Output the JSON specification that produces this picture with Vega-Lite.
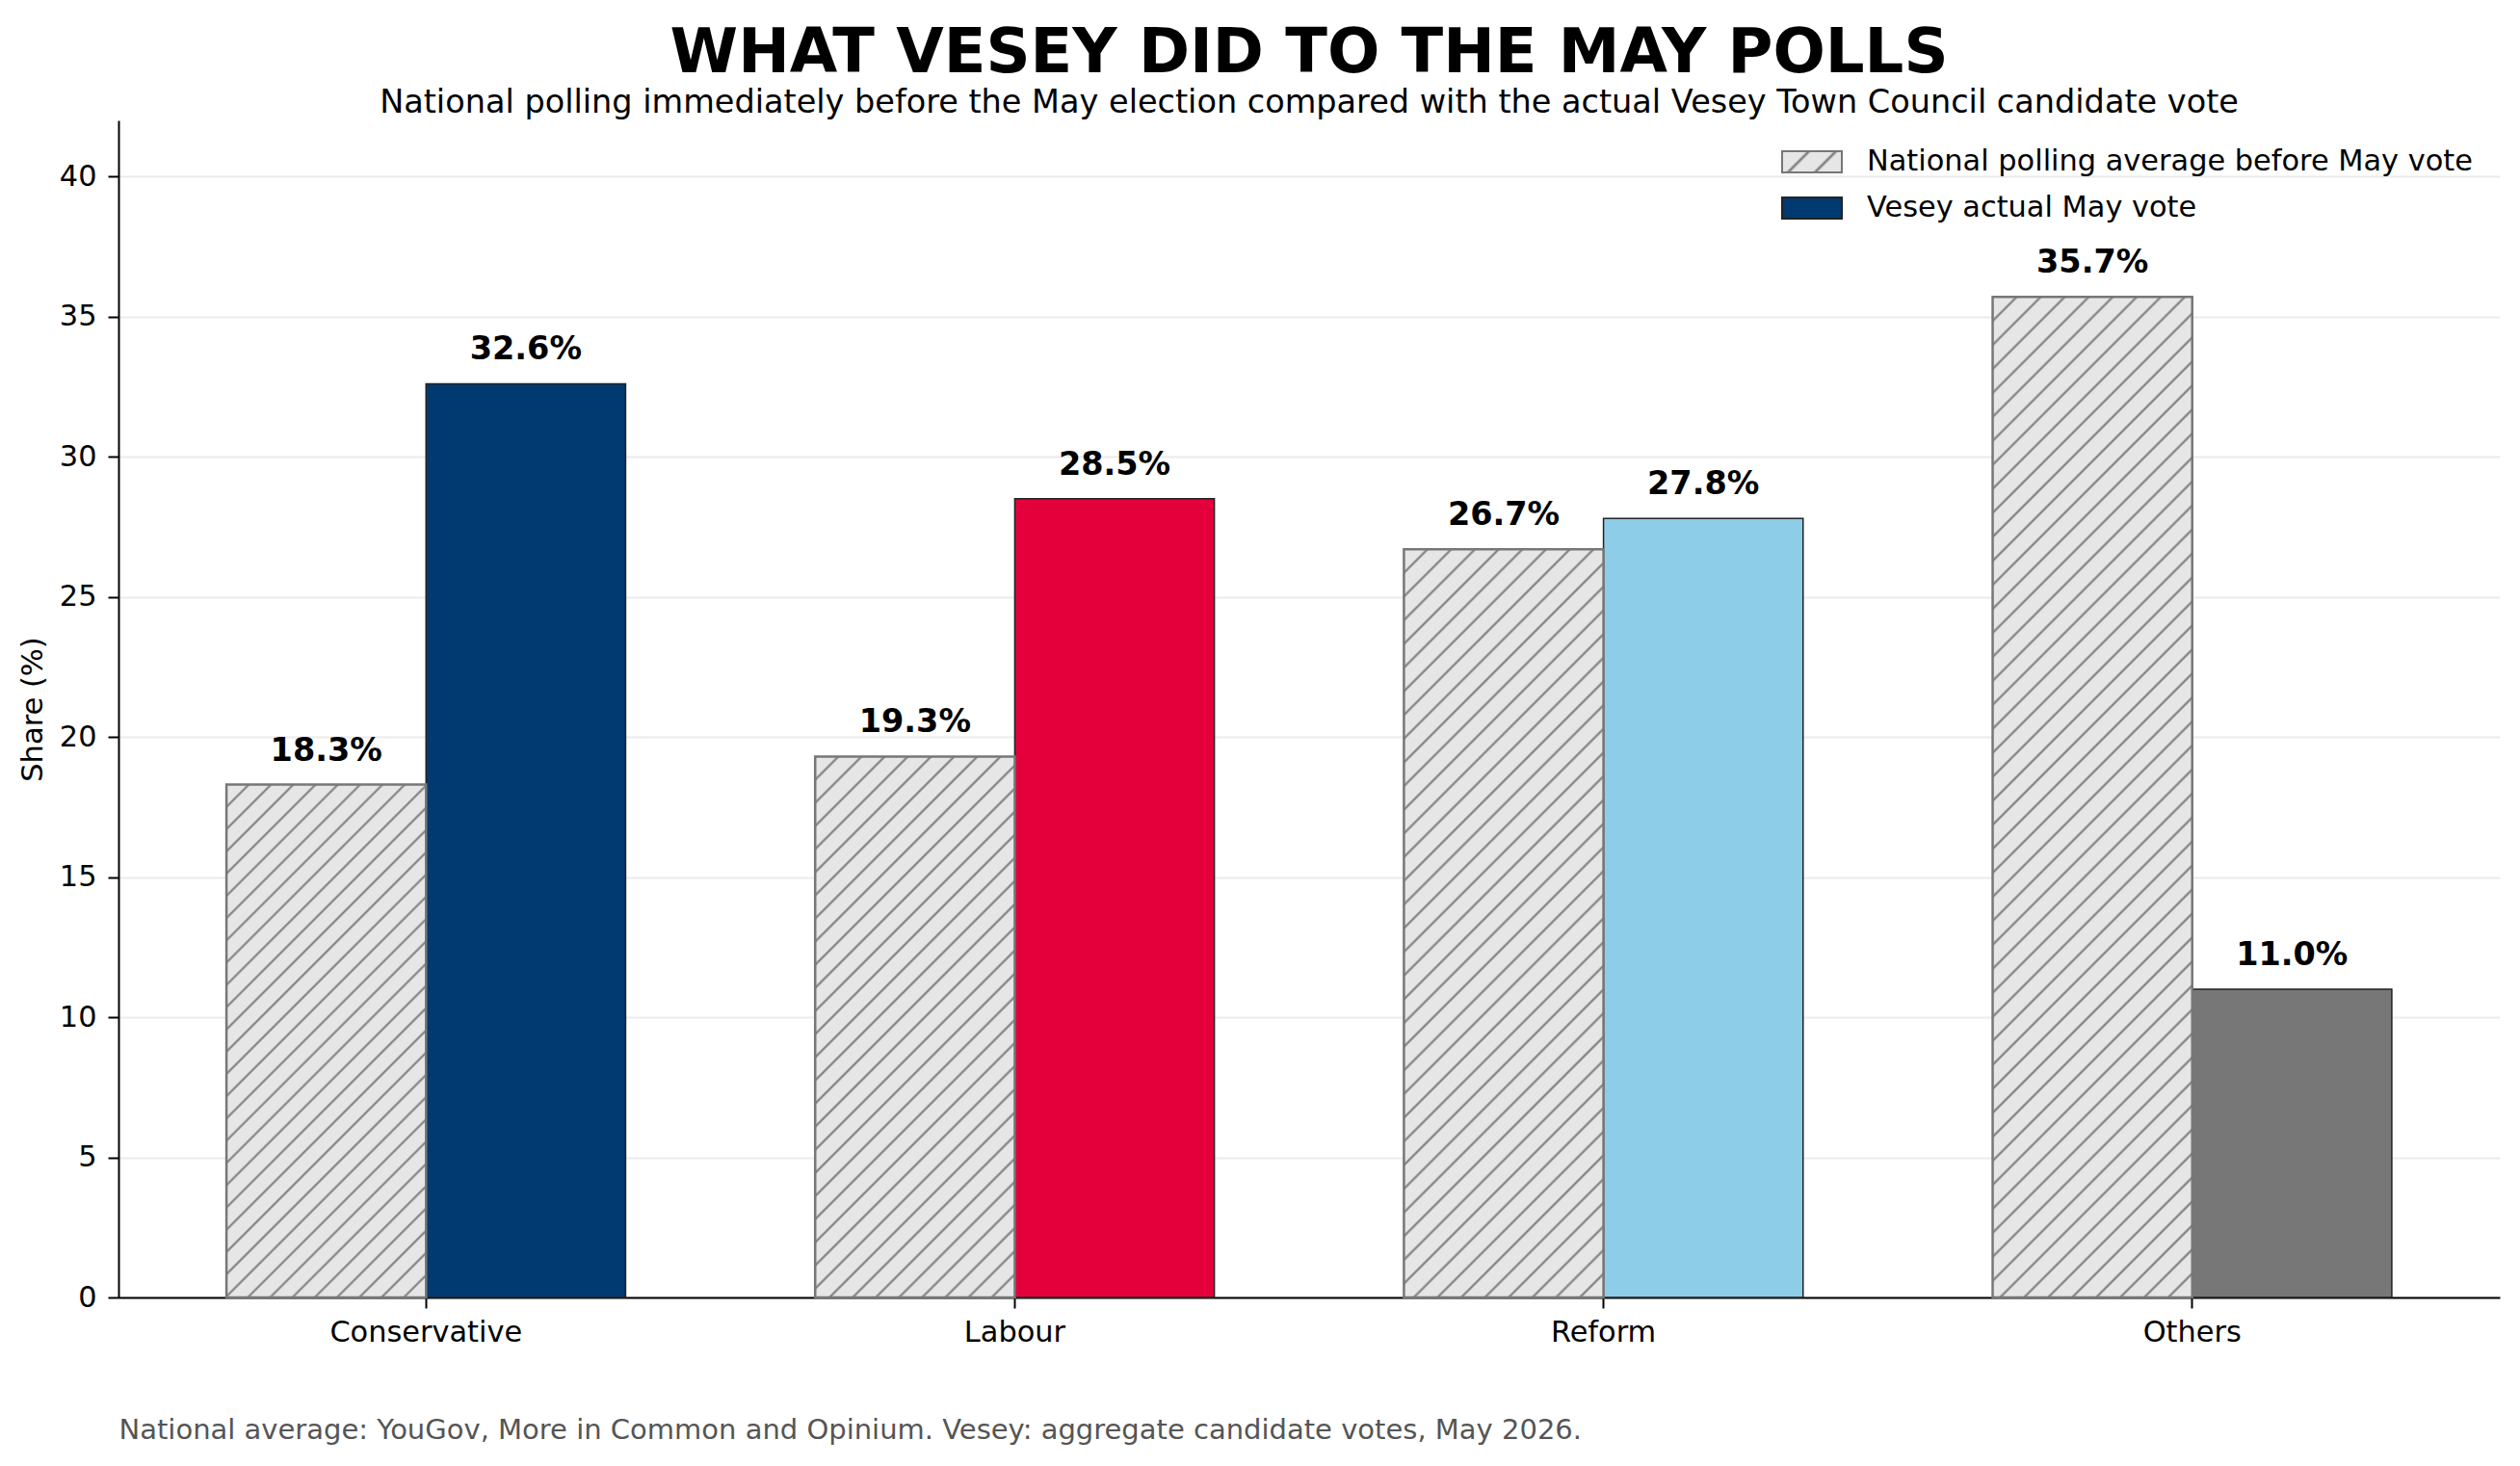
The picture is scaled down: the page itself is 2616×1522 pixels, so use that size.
{
  "$schema": "https://vega.github.io/schema/vega-lite/v6.json",
  "width": 2472,
  "height": 1222,
  "autosize": {"type": "none"},
  "padding": {"left": 123, "top": 125, "right": 21, "bottom": 175},
  "background": "#ffffff",
  "title": {
    "text": "WHAT VESEY DID TO THE MAY POLLS",
    "subtitle": "National polling immediately before the May election compared with the actual Vesey Town Council candidate vote",
    "font": "DejaVu Sans",
    "fontSize": 64,
    "fontWeight": "bold",
    "color": "#000000",
    "subtitleFont": "DejaVu Sans",
    "subtitleFontSize": 33.5,
    "subtitleColor": "#000000",
    "subtitlePadding": 3,
    "anchor": "middle",
    "frame": "group",
    "offset": 2
  },
  "data": {
    "values": [
      {"party": "Conservative", "series": "National polling average before May vote", "value": 18.3},
      {"party": "Conservative", "series": "Vesey actual May vote", "value": 32.6},
      {"party": "Labour", "series": "National polling average before May vote", "value": 19.3},
      {"party": "Labour", "series": "Vesey actual May vote", "value": 28.5},
      {"party": "Reform", "series": "National polling average before May vote", "value": 26.7},
      {"party": "Reform", "series": "Vesey actual May vote", "value": 27.8},
      {"party": "Others", "series": "National polling average before May vote", "value": 35.7},
      {"party": "Others", "series": "Vesey actual May vote", "value": 11.0}
    ]
  },
  "encoding": {
    "x": {
      "field": "party",
      "type": "nominal",
      "sort": null,
      "scale": {"domain": ["Conservative", "Labour", "Reform", "Others"], "paddingInner": 0.322, "paddingOuter": 0.1834},
      "axis": {
        "labelAngle": 0,
        "labelFontSize": 30.4,
        "labelColor": "#000000",
        "labelPadding": 10,
        "labelLimit": 0,
        "tickSize": 11,
        "tickWidth": 2,
        "tickColor": "#000000",
        "domainColor": "#000000",
        "domainWidth": 2,
        "grid": false,
        "title": "National average: YouGov, More in Common and Opinium. Vesey: aggregate candidate votes, May 2026.",
        "titleX": 0,
        "titleY": 146,
        "titleAlign": "left",
        "titleAnchor": "start",
        "titleBaseline": "alphabetic",
        "titleFontSize": 29,
        "titleFontWeight": "normal",
        "titleColor": "#555555"
      }
    },
    "xOffset": {
      "field": "series",
      "type": "nominal",
      "scale": {"domain": ["National polling average before May vote", "Vesey actual May vote"], "paddingInner": 0, "paddingOuter": 0}
    },
    "y": {
      "field": "value",
      "type": "quantitative",
      "scale": {"domain": [0, 42], "nice": false},
      "axis": {
        "values": [0, 5, 10, 15, 20, 25, 30, 35, 40],
        "labelFontSize": 30.4,
        "labelColor": "#000000",
        "labelPadding": 12,
        "tickSize": 11,
        "tickWidth": 2,
        "tickColor": "#000000",
        "domainColor": "#000000",
        "domainWidth": 2,
        "grid": true,
        "gridColor": "#ebebeb",
        "gridWidth": 2,
        "title": "Share (%)",
        "titleX": -89,
        "titleY": 611,
        "titleAlign": "center",
        "titleBaseline": "middle",
        "titleFontSize": 30.5,
        "titleFontWeight": "normal",
        "titleColor": "#000000"
      }
    }
  },
  "layer": [
    {
      "transform": [{"filter": "datum.series === 'Vesey actual May vote'"}],
      "mark": {"type": "bar", "strokeWidth": 1.5},
      "encoding": {
        "fill": {
          "field": "party",
          "type": "nominal",
          "scale": {"domain": ["Conservative", "Labour", "Reform", "Others"], "range": ["#003a70", "#e4003b", "#8ecde8", "#777777"]},
          "legend": null
        },
        "stroke": {
          "field": "series",
          "type": "nominal",
          "scale": {"domain": ["National polling average before May vote", "Vesey actual May vote"], "range": ["#777777", "#222222"]},
          "legend": {
            "title": null,
            "orient": "none",
            "legendX": 1726,
            "legendY": 11,
            "padding": 0,
            "labelFontSize": 30.4,
            "labelColor": "#000000",
            "labelOffset": 25,
            "labelLimit": 0,
            "symbolType": "M-1,-0.3548H1V0.3548H-1Z",
            "symbolSize": 3844,
            "symbolStrokeWidth": 2,
            "rowPadding": -28,
            "symbolFillColor": {"expr": "datum.value === 'Vesey actual May vote' ? '#003a70' : {gradient: 'linear', x1: 0, y1: 0, x2: 1.2033, y2: 0.4269, stops: [{offset: 0, color: '#777'}, {offset: 0.04, color: '#e6e6e6'}, {offset: 0.2933, color: '#e6e6e6'}, {offset: 0.3333, color: '#777'}, {offset: 0.3733, color: '#e6e6e6'}, {offset: 0.6267, color: '#e6e6e6'}, {offset: 0.6667, color: '#777'}, {offset: 0.7067, color: '#e6e6e6'}, {offset: 0.96, color: '#e6e6e6'}, {offset: 1, color: '#777'}]}"}
          }
        }
      }
    },
    {
      "transform": [{"filter": "datum.party === 'Conservative' && datum.series === 'National polling average before May vote'"}],
      "mark": {"type": "bar", "strokeWidth": 2.5, "stroke": "#777777", "fill": {"gradient": "linear", "x1": 0, "y1": 0, "x2": 0.4689, "y2": 1.2065, "stops": [
        {"offset": 0, "color": "#777"}, {"offset": 0.0037, "color": "#e6e6e6"}, {"offset": 0.0276, "color": "#e6e6e6"},
        {"offset": 0.0313, "color": "#777"}, {"offset": 0.035, "color": "#e6e6e6"}, {"offset": 0.0588, "color": "#e6e6e6"},
        {"offset": 0.0625, "color": "#777"}, {"offset": 0.0662, "color": "#e6e6e6"}, {"offset": 0.0901, "color": "#e6e6e6"},
        {"offset": 0.0938, "color": "#777"}, {"offset": 0.0975, "color": "#e6e6e6"}, {"offset": 0.1213, "color": "#e6e6e6"},
        {"offset": 0.125, "color": "#777"}, {"offset": 0.1287, "color": "#e6e6e6"}, {"offset": 0.1526, "color": "#e6e6e6"},
        {"offset": 0.1563, "color": "#777"}, {"offset": 0.16, "color": "#e6e6e6"}, {"offset": 0.1838, "color": "#e6e6e6"},
        {"offset": 0.1875, "color": "#777"}, {"offset": 0.1912, "color": "#e6e6e6"}, {"offset": 0.2151, "color": "#e6e6e6"},
        {"offset": 0.2188, "color": "#777"}, {"offset": 0.2225, "color": "#e6e6e6"}, {"offset": 0.2463, "color": "#e6e6e6"},
        {"offset": 0.25, "color": "#777"}, {"offset": 0.2537, "color": "#e6e6e6"}, {"offset": 0.2776, "color": "#e6e6e6"},
        {"offset": 0.2813, "color": "#777"}, {"offset": 0.285, "color": "#e6e6e6"}, {"offset": 0.3088, "color": "#e6e6e6"},
        {"offset": 0.3125, "color": "#777"}, {"offset": 0.3162, "color": "#e6e6e6"}, {"offset": 0.3401, "color": "#e6e6e6"},
        {"offset": 0.3438, "color": "#777"}, {"offset": 0.3475, "color": "#e6e6e6"}, {"offset": 0.3713, "color": "#e6e6e6"},
        {"offset": 0.375, "color": "#777"}, {"offset": 0.3787, "color": "#e6e6e6"}, {"offset": 0.4026, "color": "#e6e6e6"},
        {"offset": 0.4063, "color": "#777"}, {"offset": 0.41, "color": "#e6e6e6"}, {"offset": 0.4338, "color": "#e6e6e6"},
        {"offset": 0.4375, "color": "#777"}, {"offset": 0.4412, "color": "#e6e6e6"}, {"offset": 0.4651, "color": "#e6e6e6"},
        {"offset": 0.4688, "color": "#777"}, {"offset": 0.4725, "color": "#e6e6e6"}, {"offset": 0.4963, "color": "#e6e6e6"},
        {"offset": 0.5, "color": "#777"}, {"offset": 0.5037, "color": "#e6e6e6"}, {"offset": 0.5276, "color": "#e6e6e6"},
        {"offset": 0.5313, "color": "#777"}, {"offset": 0.535, "color": "#e6e6e6"}, {"offset": 0.5588, "color": "#e6e6e6"},
        {"offset": 0.5625, "color": "#777"}, {"offset": 0.5662, "color": "#e6e6e6"}, {"offset": 0.5901, "color": "#e6e6e6"},
        {"offset": 0.5938, "color": "#777"}, {"offset": 0.5975, "color": "#e6e6e6"}, {"offset": 0.6213, "color": "#e6e6e6"},
        {"offset": 0.625, "color": "#777"}, {"offset": 0.6287, "color": "#e6e6e6"}, {"offset": 0.6526, "color": "#e6e6e6"},
        {"offset": 0.6563, "color": "#777"}, {"offset": 0.66, "color": "#e6e6e6"}, {"offset": 0.6838, "color": "#e6e6e6"},
        {"offset": 0.6875, "color": "#777"}, {"offset": 0.6912, "color": "#e6e6e6"}, {"offset": 0.7151, "color": "#e6e6e6"},
        {"offset": 0.7188, "color": "#777"}, {"offset": 0.7225, "color": "#e6e6e6"}, {"offset": 0.7463, "color": "#e6e6e6"},
        {"offset": 0.75, "color": "#777"}, {"offset": 0.7537, "color": "#e6e6e6"}, {"offset": 0.7776, "color": "#e6e6e6"},
        {"offset": 0.7813, "color": "#777"}, {"offset": 0.785, "color": "#e6e6e6"}, {"offset": 0.8088, "color": "#e6e6e6"},
        {"offset": 0.8125, "color": "#777"}, {"offset": 0.8162, "color": "#e6e6e6"}, {"offset": 0.8401, "color": "#e6e6e6"},
        {"offset": 0.8438, "color": "#777"}, {"offset": 0.8475, "color": "#e6e6e6"}, {"offset": 0.8713, "color": "#e6e6e6"},
        {"offset": 0.875, "color": "#777"}, {"offset": 0.8787, "color": "#e6e6e6"}, {"offset": 0.9026, "color": "#e6e6e6"},
        {"offset": 0.9063, "color": "#777"}, {"offset": 0.91, "color": "#e6e6e6"}, {"offset": 0.9338, "color": "#e6e6e6"},
        {"offset": 0.9375, "color": "#777"}, {"offset": 0.9412, "color": "#e6e6e6"}, {"offset": 0.9651, "color": "#e6e6e6"},
        {"offset": 0.9688, "color": "#777"}, {"offset": 0.9725, "color": "#e6e6e6"}, {"offset": 0.9963, "color": "#e6e6e6"},
        {"offset": 1, "color": "#777"}
      ]}}
    },
    {
      "transform": [{"filter": "datum.party === 'Labour' && datum.series === 'National polling average before May vote'"}],
      "mark": {"type": "bar", "strokeWidth": 2.5, "stroke": "#777777", "fill": {"gradient": "linear", "x1": 0, "y1": 0, "x2": 0.4441, "y2": 1.2049, "stops": [
        {"offset": 0, "color": "#777"}, {"offset": 0.0037, "color": "#e6e6e6"}, {"offset": 0.0276, "color": "#e6e6e6"},
        {"offset": 0.0313, "color": "#777"}, {"offset": 0.035, "color": "#e6e6e6"}, {"offset": 0.0588, "color": "#e6e6e6"},
        {"offset": 0.0625, "color": "#777"}, {"offset": 0.0662, "color": "#e6e6e6"}, {"offset": 0.0901, "color": "#e6e6e6"},
        {"offset": 0.0938, "color": "#777"}, {"offset": 0.0975, "color": "#e6e6e6"}, {"offset": 0.1213, "color": "#e6e6e6"},
        {"offset": 0.125, "color": "#777"}, {"offset": 0.1287, "color": "#e6e6e6"}, {"offset": 0.1526, "color": "#e6e6e6"},
        {"offset": 0.1563, "color": "#777"}, {"offset": 0.16, "color": "#e6e6e6"}, {"offset": 0.1838, "color": "#e6e6e6"},
        {"offset": 0.1875, "color": "#777"}, {"offset": 0.1912, "color": "#e6e6e6"}, {"offset": 0.2151, "color": "#e6e6e6"},
        {"offset": 0.2188, "color": "#777"}, {"offset": 0.2225, "color": "#e6e6e6"}, {"offset": 0.2463, "color": "#e6e6e6"},
        {"offset": 0.25, "color": "#777"}, {"offset": 0.2537, "color": "#e6e6e6"}, {"offset": 0.2776, "color": "#e6e6e6"},
        {"offset": 0.2813, "color": "#777"}, {"offset": 0.285, "color": "#e6e6e6"}, {"offset": 0.3088, "color": "#e6e6e6"},
        {"offset": 0.3125, "color": "#777"}, {"offset": 0.3162, "color": "#e6e6e6"}, {"offset": 0.3401, "color": "#e6e6e6"},
        {"offset": 0.3438, "color": "#777"}, {"offset": 0.3475, "color": "#e6e6e6"}, {"offset": 0.3713, "color": "#e6e6e6"},
        {"offset": 0.375, "color": "#777"}, {"offset": 0.3787, "color": "#e6e6e6"}, {"offset": 0.4026, "color": "#e6e6e6"},
        {"offset": 0.4063, "color": "#777"}, {"offset": 0.41, "color": "#e6e6e6"}, {"offset": 0.4338, "color": "#e6e6e6"},
        {"offset": 0.4375, "color": "#777"}, {"offset": 0.4412, "color": "#e6e6e6"}, {"offset": 0.4651, "color": "#e6e6e6"},
        {"offset": 0.4688, "color": "#777"}, {"offset": 0.4725, "color": "#e6e6e6"}, {"offset": 0.4963, "color": "#e6e6e6"},
        {"offset": 0.5, "color": "#777"}, {"offset": 0.5037, "color": "#e6e6e6"}, {"offset": 0.5276, "color": "#e6e6e6"},
        {"offset": 0.5313, "color": "#777"}, {"offset": 0.535, "color": "#e6e6e6"}, {"offset": 0.5588, "color": "#e6e6e6"},
        {"offset": 0.5625, "color": "#777"}, {"offset": 0.5662, "color": "#e6e6e6"}, {"offset": 0.5901, "color": "#e6e6e6"},
        {"offset": 0.5938, "color": "#777"}, {"offset": 0.5975, "color": "#e6e6e6"}, {"offset": 0.6213, "color": "#e6e6e6"},
        {"offset": 0.625, "color": "#777"}, {"offset": 0.6287, "color": "#e6e6e6"}, {"offset": 0.6526, "color": "#e6e6e6"},
        {"offset": 0.6563, "color": "#777"}, {"offset": 0.66, "color": "#e6e6e6"}, {"offset": 0.6838, "color": "#e6e6e6"},
        {"offset": 0.6875, "color": "#777"}, {"offset": 0.6912, "color": "#e6e6e6"}, {"offset": 0.7151, "color": "#e6e6e6"},
        {"offset": 0.7188, "color": "#777"}, {"offset": 0.7225, "color": "#e6e6e6"}, {"offset": 0.7463, "color": "#e6e6e6"},
        {"offset": 0.75, "color": "#777"}, {"offset": 0.7537, "color": "#e6e6e6"}, {"offset": 0.7776, "color": "#e6e6e6"},
        {"offset": 0.7813, "color": "#777"}, {"offset": 0.785, "color": "#e6e6e6"}, {"offset": 0.8088, "color": "#e6e6e6"},
        {"offset": 0.8125, "color": "#777"}, {"offset": 0.8162, "color": "#e6e6e6"}, {"offset": 0.8401, "color": "#e6e6e6"},
        {"offset": 0.8438, "color": "#777"}, {"offset": 0.8475, "color": "#e6e6e6"}, {"offset": 0.8713, "color": "#e6e6e6"},
        {"offset": 0.875, "color": "#777"}, {"offset": 0.8787, "color": "#e6e6e6"}, {"offset": 0.9026, "color": "#e6e6e6"},
        {"offset": 0.9063, "color": "#777"}, {"offset": 0.91, "color": "#e6e6e6"}, {"offset": 0.9338, "color": "#e6e6e6"},
        {"offset": 0.9375, "color": "#777"}, {"offset": 0.9412, "color": "#e6e6e6"}, {"offset": 0.9651, "color": "#e6e6e6"},
        {"offset": 0.9688, "color": "#777"}, {"offset": 0.9725, "color": "#e6e6e6"}, {"offset": 0.9963, "color": "#e6e6e6"},
        {"offset": 1, "color": "#777"}
      ]}}
    },
    {
      "transform": [{"filter": "datum.party === 'Reform' && datum.series === 'National polling average before May vote'"}],
      "mark": {"type": "bar", "strokeWidth": 2.5, "stroke": "#777777", "fill": {"gradient": "linear", "x1": 0, "y1": 0, "x2": 0.3151, "y2": 1.1825, "stops": [
        {"offset": 0, "color": "#777"}, {"offset": 0.0029, "color": "#e6e6e6"}, {"offset": 0.0221, "color": "#e6e6e6"},
        {"offset": 0.025, "color": "#777"}, {"offset": 0.0279, "color": "#e6e6e6"}, {"offset": 0.0471, "color": "#e6e6e6"},
        {"offset": 0.05, "color": "#777"}, {"offset": 0.0529, "color": "#e6e6e6"}, {"offset": 0.0721, "color": "#e6e6e6"},
        {"offset": 0.075, "color": "#777"}, {"offset": 0.0779, "color": "#e6e6e6"}, {"offset": 0.0971, "color": "#e6e6e6"},
        {"offset": 0.1, "color": "#777"}, {"offset": 0.1029, "color": "#e6e6e6"}, {"offset": 0.1221, "color": "#e6e6e6"},
        {"offset": 0.125, "color": "#777"}, {"offset": 0.1279, "color": "#e6e6e6"}, {"offset": 0.1471, "color": "#e6e6e6"},
        {"offset": 0.15, "color": "#777"}, {"offset": 0.1529, "color": "#e6e6e6"}, {"offset": 0.1721, "color": "#e6e6e6"},
        {"offset": 0.175, "color": "#777"}, {"offset": 0.1779, "color": "#e6e6e6"}, {"offset": 0.1971, "color": "#e6e6e6"},
        {"offset": 0.2, "color": "#777"}, {"offset": 0.2029, "color": "#e6e6e6"}, {"offset": 0.2221, "color": "#e6e6e6"},
        {"offset": 0.225, "color": "#777"}, {"offset": 0.2279, "color": "#e6e6e6"}, {"offset": 0.2471, "color": "#e6e6e6"},
        {"offset": 0.25, "color": "#777"}, {"offset": 0.2529, "color": "#e6e6e6"}, {"offset": 0.2721, "color": "#e6e6e6"},
        {"offset": 0.275, "color": "#777"}, {"offset": 0.2779, "color": "#e6e6e6"}, {"offset": 0.2971, "color": "#e6e6e6"},
        {"offset": 0.3, "color": "#777"}, {"offset": 0.3029, "color": "#e6e6e6"}, {"offset": 0.3221, "color": "#e6e6e6"},
        {"offset": 0.325, "color": "#777"}, {"offset": 0.3279, "color": "#e6e6e6"}, {"offset": 0.3471, "color": "#e6e6e6"},
        {"offset": 0.35, "color": "#777"}, {"offset": 0.3529, "color": "#e6e6e6"}, {"offset": 0.3721, "color": "#e6e6e6"},
        {"offset": 0.375, "color": "#777"}, {"offset": 0.3779, "color": "#e6e6e6"}, {"offset": 0.3971, "color": "#e6e6e6"},
        {"offset": 0.4, "color": "#777"}, {"offset": 0.4029, "color": "#e6e6e6"}, {"offset": 0.4221, "color": "#e6e6e6"},
        {"offset": 0.425, "color": "#777"}, {"offset": 0.4279, "color": "#e6e6e6"}, {"offset": 0.4471, "color": "#e6e6e6"},
        {"offset": 0.45, "color": "#777"}, {"offset": 0.4529, "color": "#e6e6e6"}, {"offset": 0.4721, "color": "#e6e6e6"},
        {"offset": 0.475, "color": "#777"}, {"offset": 0.4779, "color": "#e6e6e6"}, {"offset": 0.4971, "color": "#e6e6e6"},
        {"offset": 0.5, "color": "#777"}, {"offset": 0.5029, "color": "#e6e6e6"}, {"offset": 0.5221, "color": "#e6e6e6"},
        {"offset": 0.525, "color": "#777"}, {"offset": 0.5279, "color": "#e6e6e6"}, {"offset": 0.5471, "color": "#e6e6e6"},
        {"offset": 0.55, "color": "#777"}, {"offset": 0.5529, "color": "#e6e6e6"}, {"offset": 0.5721, "color": "#e6e6e6"},
        {"offset": 0.575, "color": "#777"}, {"offset": 0.5779, "color": "#e6e6e6"}, {"offset": 0.5971, "color": "#e6e6e6"},
        {"offset": 0.6, "color": "#777"}, {"offset": 0.6029, "color": "#e6e6e6"}, {"offset": 0.6221, "color": "#e6e6e6"},
        {"offset": 0.625, "color": "#777"}, {"offset": 0.6279, "color": "#e6e6e6"}, {"offset": 0.6471, "color": "#e6e6e6"},
        {"offset": 0.65, "color": "#777"}, {"offset": 0.6529, "color": "#e6e6e6"}, {"offset": 0.6721, "color": "#e6e6e6"},
        {"offset": 0.675, "color": "#777"}, {"offset": 0.6779, "color": "#e6e6e6"}, {"offset": 0.6971, "color": "#e6e6e6"},
        {"offset": 0.7, "color": "#777"}, {"offset": 0.7029, "color": "#e6e6e6"}, {"offset": 0.7221, "color": "#e6e6e6"},
        {"offset": 0.725, "color": "#777"}, {"offset": 0.7279, "color": "#e6e6e6"}, {"offset": 0.7471, "color": "#e6e6e6"},
        {"offset": 0.75, "color": "#777"}, {"offset": 0.7529, "color": "#e6e6e6"}, {"offset": 0.7721, "color": "#e6e6e6"},
        {"offset": 0.775, "color": "#777"}, {"offset": 0.7779, "color": "#e6e6e6"}, {"offset": 0.7971, "color": "#e6e6e6"},
        {"offset": 0.8, "color": "#777"}, {"offset": 0.8029, "color": "#e6e6e6"}, {"offset": 0.8221, "color": "#e6e6e6"},
        {"offset": 0.825, "color": "#777"}, {"offset": 0.8279, "color": "#e6e6e6"}, {"offset": 0.8471, "color": "#e6e6e6"},
        {"offset": 0.85, "color": "#777"}, {"offset": 0.8529, "color": "#e6e6e6"}, {"offset": 0.8721, "color": "#e6e6e6"},
        {"offset": 0.875, "color": "#777"}, {"offset": 0.8779, "color": "#e6e6e6"}, {"offset": 0.8971, "color": "#e6e6e6"},
        {"offset": 0.9, "color": "#777"}, {"offset": 0.9029, "color": "#e6e6e6"}, {"offset": 0.9221, "color": "#e6e6e6"},
        {"offset": 0.925, "color": "#777"}, {"offset": 0.9279, "color": "#e6e6e6"}, {"offset": 0.9471, "color": "#e6e6e6"},
        {"offset": 0.95, "color": "#777"}, {"offset": 0.9529, "color": "#e6e6e6"}, {"offset": 0.9721, "color": "#e6e6e6"},
        {"offset": 0.975, "color": "#777"}, {"offset": 0.9779, "color": "#e6e6e6"}, {"offset": 0.9971, "color": "#e6e6e6"},
        {"offset": 1, "color": "#777"}
      ]}}
    },
    {
      "transform": [{"filter": "datum.party === 'Others' && datum.series === 'National polling average before May vote'"}],
      "mark": {"type": "bar", "strokeWidth": 2.5, "stroke": "#777777", "fill": {"gradient": "linear", "x1": 0, "y1": 0, "x2": 0.2299, "y2": 1.1535, "stops": [
        {"offset": 0, "color": "#777"}, {"offset": 0.0023, "color": "#e6e6e6"}, {"offset": 0.0177, "color": "#e6e6e6"},
        {"offset": 0.02, "color": "#777"}, {"offset": 0.0223, "color": "#e6e6e6"}, {"offset": 0.0377, "color": "#e6e6e6"},
        {"offset": 0.04, "color": "#777"}, {"offset": 0.0423, "color": "#e6e6e6"}, {"offset": 0.0577, "color": "#e6e6e6"},
        {"offset": 0.06, "color": "#777"}, {"offset": 0.0623, "color": "#e6e6e6"}, {"offset": 0.0777, "color": "#e6e6e6"},
        {"offset": 0.08, "color": "#777"}, {"offset": 0.0823, "color": "#e6e6e6"}, {"offset": 0.0977, "color": "#e6e6e6"},
        {"offset": 0.1, "color": "#777"}, {"offset": 0.1023, "color": "#e6e6e6"}, {"offset": 0.1177, "color": "#e6e6e6"},
        {"offset": 0.12, "color": "#777"}, {"offset": 0.1223, "color": "#e6e6e6"}, {"offset": 0.1377, "color": "#e6e6e6"},
        {"offset": 0.14, "color": "#777"}, {"offset": 0.1423, "color": "#e6e6e6"}, {"offset": 0.1577, "color": "#e6e6e6"},
        {"offset": 0.16, "color": "#777"}, {"offset": 0.1623, "color": "#e6e6e6"}, {"offset": 0.1777, "color": "#e6e6e6"},
        {"offset": 0.18, "color": "#777"}, {"offset": 0.1823, "color": "#e6e6e6"}, {"offset": 0.1977, "color": "#e6e6e6"},
        {"offset": 0.2, "color": "#777"}, {"offset": 0.2023, "color": "#e6e6e6"}, {"offset": 0.2177, "color": "#e6e6e6"},
        {"offset": 0.22, "color": "#777"}, {"offset": 0.2223, "color": "#e6e6e6"}, {"offset": 0.2377, "color": "#e6e6e6"},
        {"offset": 0.24, "color": "#777"}, {"offset": 0.2423, "color": "#e6e6e6"}, {"offset": 0.2577, "color": "#e6e6e6"},
        {"offset": 0.26, "color": "#777"}, {"offset": 0.2623, "color": "#e6e6e6"}, {"offset": 0.2777, "color": "#e6e6e6"},
        {"offset": 0.28, "color": "#777"}, {"offset": 0.2823, "color": "#e6e6e6"}, {"offset": 0.2977, "color": "#e6e6e6"},
        {"offset": 0.3, "color": "#777"}, {"offset": 0.3023, "color": "#e6e6e6"}, {"offset": 0.3177, "color": "#e6e6e6"},
        {"offset": 0.32, "color": "#777"}, {"offset": 0.3223, "color": "#e6e6e6"}, {"offset": 0.3377, "color": "#e6e6e6"},
        {"offset": 0.34, "color": "#777"}, {"offset": 0.3423, "color": "#e6e6e6"}, {"offset": 0.3577, "color": "#e6e6e6"},
        {"offset": 0.36, "color": "#777"}, {"offset": 0.3623, "color": "#e6e6e6"}, {"offset": 0.3777, "color": "#e6e6e6"},
        {"offset": 0.38, "color": "#777"}, {"offset": 0.3823, "color": "#e6e6e6"}, {"offset": 0.3977, "color": "#e6e6e6"},
        {"offset": 0.4, "color": "#777"}, {"offset": 0.4023, "color": "#e6e6e6"}, {"offset": 0.4177, "color": "#e6e6e6"},
        {"offset": 0.42, "color": "#777"}, {"offset": 0.4223, "color": "#e6e6e6"}, {"offset": 0.4377, "color": "#e6e6e6"},
        {"offset": 0.44, "color": "#777"}, {"offset": 0.4423, "color": "#e6e6e6"}, {"offset": 0.4577, "color": "#e6e6e6"},
        {"offset": 0.46, "color": "#777"}, {"offset": 0.4623, "color": "#e6e6e6"}, {"offset": 0.4777, "color": "#e6e6e6"},
        {"offset": 0.48, "color": "#777"}, {"offset": 0.4823, "color": "#e6e6e6"}, {"offset": 0.4977, "color": "#e6e6e6"},
        {"offset": 0.5, "color": "#777"}, {"offset": 0.5023, "color": "#e6e6e6"}, {"offset": 0.5177, "color": "#e6e6e6"},
        {"offset": 0.52, "color": "#777"}, {"offset": 0.5223, "color": "#e6e6e6"}, {"offset": 0.5377, "color": "#e6e6e6"},
        {"offset": 0.54, "color": "#777"}, {"offset": 0.5423, "color": "#e6e6e6"}, {"offset": 0.5577, "color": "#e6e6e6"},
        {"offset": 0.56, "color": "#777"}, {"offset": 0.5623, "color": "#e6e6e6"}, {"offset": 0.5777, "color": "#e6e6e6"},
        {"offset": 0.58, "color": "#777"}, {"offset": 0.5823, "color": "#e6e6e6"}, {"offset": 0.5977, "color": "#e6e6e6"},
        {"offset": 0.6, "color": "#777"}, {"offset": 0.6023, "color": "#e6e6e6"}, {"offset": 0.6177, "color": "#e6e6e6"},
        {"offset": 0.62, "color": "#777"}, {"offset": 0.6223, "color": "#e6e6e6"}, {"offset": 0.6377, "color": "#e6e6e6"},
        {"offset": 0.64, "color": "#777"}, {"offset": 0.6423, "color": "#e6e6e6"}, {"offset": 0.6577, "color": "#e6e6e6"},
        {"offset": 0.66, "color": "#777"}, {"offset": 0.6623, "color": "#e6e6e6"}, {"offset": 0.6777, "color": "#e6e6e6"},
        {"offset": 0.68, "color": "#777"}, {"offset": 0.6823, "color": "#e6e6e6"}, {"offset": 0.6977, "color": "#e6e6e6"},
        {"offset": 0.7, "color": "#777"}, {"offset": 0.7023, "color": "#e6e6e6"}, {"offset": 0.7177, "color": "#e6e6e6"},
        {"offset": 0.72, "color": "#777"}, {"offset": 0.7223, "color": "#e6e6e6"}, {"offset": 0.7377, "color": "#e6e6e6"},
        {"offset": 0.74, "color": "#777"}, {"offset": 0.7423, "color": "#e6e6e6"}, {"offset": 0.7577, "color": "#e6e6e6"},
        {"offset": 0.76, "color": "#777"}, {"offset": 0.7623, "color": "#e6e6e6"}, {"offset": 0.7777, "color": "#e6e6e6"},
        {"offset": 0.78, "color": "#777"}, {"offset": 0.7823, "color": "#e6e6e6"}, {"offset": 0.7977, "color": "#e6e6e6"},
        {"offset": 0.8, "color": "#777"}, {"offset": 0.8023, "color": "#e6e6e6"}, {"offset": 0.8177, "color": "#e6e6e6"},
        {"offset": 0.82, "color": "#777"}, {"offset": 0.8223, "color": "#e6e6e6"}, {"offset": 0.8377, "color": "#e6e6e6"},
        {"offset": 0.84, "color": "#777"}, {"offset": 0.8423, "color": "#e6e6e6"}, {"offset": 0.8577, "color": "#e6e6e6"},
        {"offset": 0.86, "color": "#777"}, {"offset": 0.8623, "color": "#e6e6e6"}, {"offset": 0.8777, "color": "#e6e6e6"},
        {"offset": 0.88, "color": "#777"}, {"offset": 0.8823, "color": "#e6e6e6"}, {"offset": 0.8977, "color": "#e6e6e6"},
        {"offset": 0.9, "color": "#777"}, {"offset": 0.9023, "color": "#e6e6e6"}, {"offset": 0.9177, "color": "#e6e6e6"},
        {"offset": 0.92, "color": "#777"}, {"offset": 0.9223, "color": "#e6e6e6"}, {"offset": 0.9377, "color": "#e6e6e6"},
        {"offset": 0.94, "color": "#777"}, {"offset": 0.9423, "color": "#e6e6e6"}, {"offset": 0.9577, "color": "#e6e6e6"},
        {"offset": 0.96, "color": "#777"}, {"offset": 0.9623, "color": "#e6e6e6"}, {"offset": 0.9777, "color": "#e6e6e6"},
        {"offset": 0.98, "color": "#777"}, {"offset": 0.9823, "color": "#e6e6e6"}, {"offset": 0.9977, "color": "#e6e6e6"},
        {"offset": 1, "color": "#777"}
      ]}}
    },
    {
      "transform": [{"calculate": "format(datum.value, '.1f') + '%'", "as": "label"}],
      "mark": {"type": "text", "fontSize": 33.5, "fontWeight": "bold", "color": "#000000", "baseline": "alphabetic", "dy": -25},
      "encoding": {
        "text": {"field": "label", "type": "nominal"}
      }
    }
  ],
  "config": {
    "font": "DejaVu Sans",
    "view": {"stroke": null},
    "axis": {"labelFont": "DejaVu Sans", "titleFont": "DejaVu Sans"},
    "legend": {"labelFont": "DejaVu Sans"}
  }
}
